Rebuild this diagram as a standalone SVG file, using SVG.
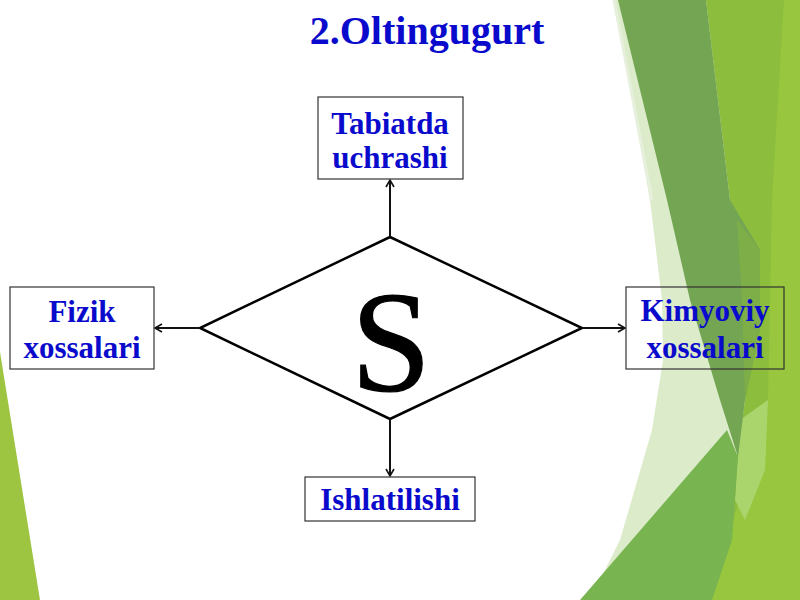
<svg xmlns="http://www.w3.org/2000/svg" width="800" height="600" viewBox="0 0 800 600">
<style>
.lbl{font-family:"Liberation Serif","Times New Roman",serif;font-weight:bold;font-size:31px;fill:#0a0acc;text-anchor:middle}
.box{fill:none;stroke:#333;stroke-width:1.2}
.con{stroke:#111;stroke-width:2;fill:none;marker-end:url(#arr)}
</style>
<defs>
<marker id="arr" markerWidth="10" markerHeight="12" refX="8" refY="5" orient="auto" markerUnits="userSpaceOnUse">
<path d="M1,1 L8,5 L1,9" fill="none" stroke="#111" stroke-width="1.6"/>
</marker>
</defs>
<rect width="800" height="600" fill="#ffffff"/>
<g id="background">
<polygon points="614,0 760,0 760,600 590,600 620,540 652,430 663,360 662,300 650,200 632,100" fill="#dcebca"/>
<polygon points="706,0 800,0 800,600 705,600 735,470 748,380 742,260 730,200" fill="#8cbd3d"/>
<polygon points="784,0 800,0 800,600 710,600 745,480 768,400 772,200" fill="#98c63e"/>
<polygon points="740,420 768,400 765,470 745,520 735,500" fill="#aad56c"/>
<polygon points="618,0 706,0 730,200 760,250 760,330 745,400 738,457 720,400 690,300 667,200" fill="#73a553"/>
<line x1="614" y1="0" x2="652" y2="200" stroke="#e6f0dc" stroke-width="3"/>
<polygon points="737,220 760,250 760,330 745,400 742,300" fill="#7eae48"/>
<polygon points="580,600 727,430 738,457 732,540 712,600" fill="#78b44f"/>
<polygon points="0,352 40,600 0,600" fill="#9dc541"/>
</g>
<text x="427" y="44" font-family="Liberation Serif,'Times New Roman',serif" font-weight="bold" font-size="40" fill="#0a0acc" text-anchor="middle">2.Oltingugurt</text>
<g id="center">
<polygon points="390,237 582,328 390,419 200,328" fill="#ffffff" stroke="#000" stroke-width="2.5"/>
<text x="391" y="391" font-family="Liberation Serif,'Times New Roman',serif" font-size="144" fill="#000" stroke="#000" stroke-width="1.2" text-anchor="middle">S</text>
</g>
<g id="connectors">
<line class="con" x1="390" y1="237" x2="390" y2="180"/>
<line class="con" x1="200" y1="328" x2="155" y2="328"/>
<line class="con" x1="582" y1="328" x2="625" y2="328"/>
<line class="con" x1="390" y1="419" x2="390" y2="476"/>
</g>
<g id="node-top">
<rect class="box" x="318" y="97" width="145" height="82"/>
<text class="lbl" x="390" y="134">Tabiatda</text>
<text class="lbl" x="390" y="168">uchrashi</text>
</g>
<g id="node-left">
<rect class="box" x="10" y="287" width="144" height="82"/>
<text class="lbl" x="82" y="322">Fizik</text>
<text class="lbl" x="82" y="358">xossalari</text>
</g>
<g id="node-right">
<rect class="box" x="626" y="287" width="158" height="82"/>
<text class="lbl" x="705" y="321">Kimyoviy</text>
<text class="lbl" x="705" y="358">xossalari</text>
</g>
<g id="node-bottom">
<rect class="box" x="305" y="477" width="170" height="44"/>
<text class="lbl" x="390" y="510">Ishlatilishi</text>
</g>
</svg>
